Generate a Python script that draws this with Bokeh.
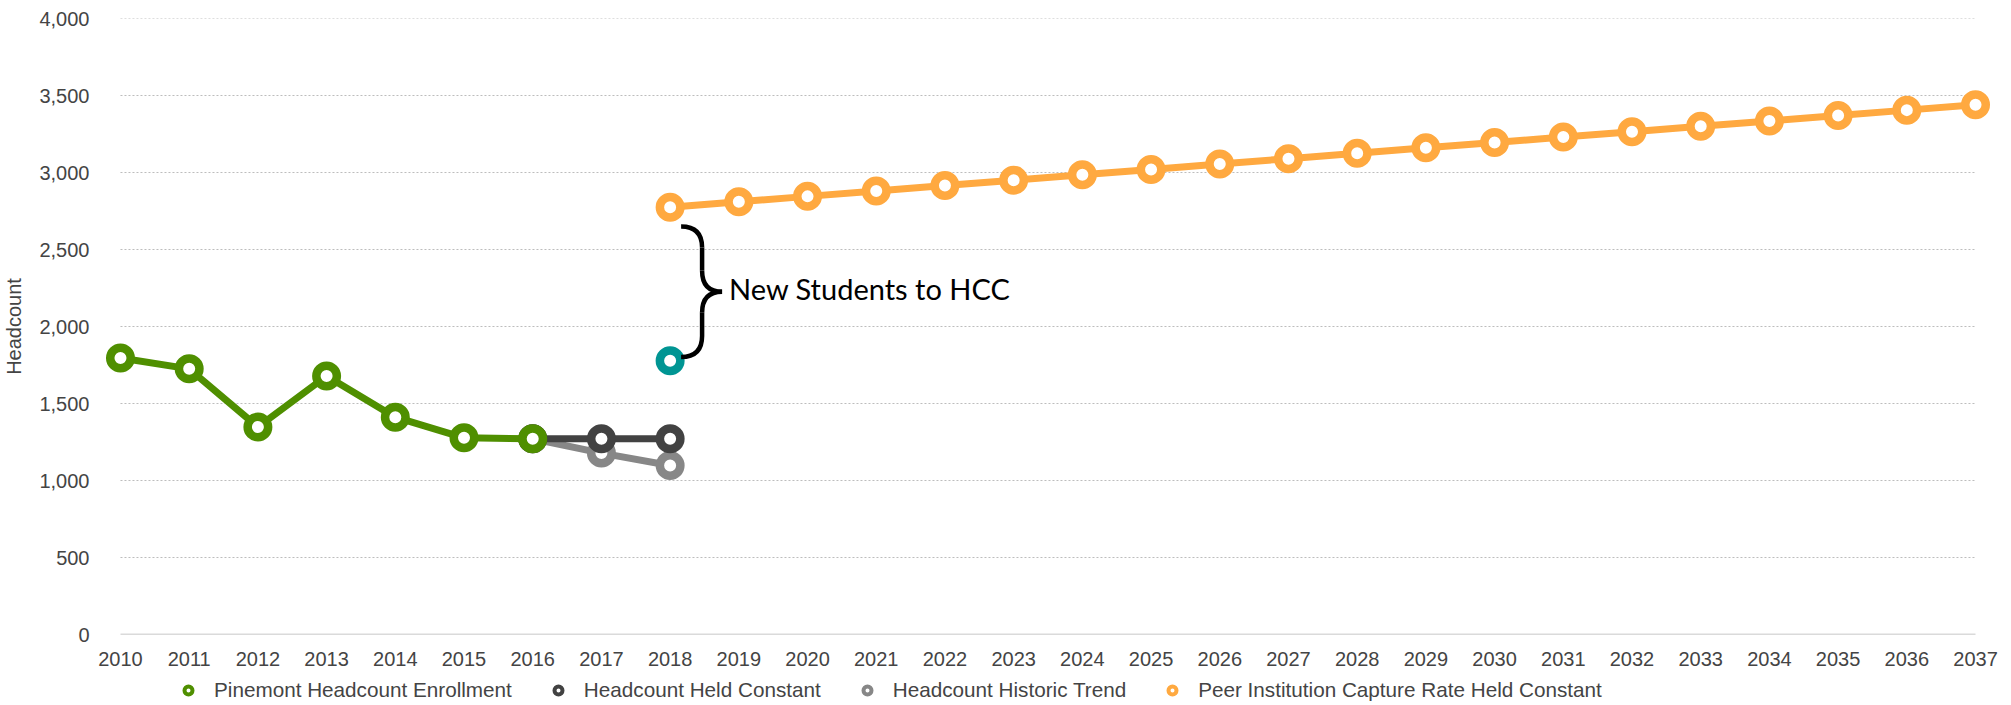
from bokeh.plotting import figure
from bokeh.layouts import column
from bokeh.models import (Range1d, FixedTicker, NumeralTickFormatter, Legend, LegendItem)
from bokeh.core.properties import value
from bokeh.embed import file_html
from bokeh.resources import INLINE

# ---------------- data ----------------
years_hist = [2010, 2011, 2012, 2013, 2014, 2015, 2016]
pinemont = [1795, 1725, 1347, 1679, 1411, 1277, 1271]

years_const = [2016, 2017, 2018]
held_constant = [1271, 1271, 1271]

years_trend = [2016, 2017, 2018]
historic_trend = [1271, 1178, 1097]

years_peer = list(range(2018, 2038))
peer_capture = [2775, 2810, 2845, 2880, 2915, 2950, 2985, 3020, 3055, 3090,
                3125, 3160, 3195, 3230, 3265, 3300, 3335, 3370, 3405, 3440]

teal_year = [2018]
teal_value = [1777]

x_ticks = list(range(2010, 2038))
y_ticks = [0, 500, 1000, 1500, 2000, 2500, 3000, 3500, 4000]
annotation = "New Students to HCC"

legend_labels = ["Pinemont Headcount Enrollment", "Headcount Held Constant",
                 "Headcount Historic Trend", "Peer Institution Capture Rate Held Constant"]

GREEN = "#4F8F00"
DARK = "#424242"
GRAY = "#878787"
ORANGE = "#FFA940"
TEAL = "#009593"

W, H = 2011, 705
LEG_H = 37
MAIN_H = H - LEG_H
L, R, T, B = 102, 20, 18, MAIN_H - 634
PAD = 16  # px of breathing room so edge markers are not clipped

plot_w = W - L - R
px_x = (plot_w - 2 * PAD) / (x_ticks[-1] - x_ticks[0])   # px per year
pad_years = PAD / px_x
px_y = (MAIN_H - T - B) / (y_ticks[-1] - y_ticks[0])     # px per unit

p = figure(width=W, height=MAIN_H, output_backend="svg", toolbar_location=None,
           x_range=Range1d(x_ticks[0] - pad_years, x_ticks[-1] + pad_years),
           y_range=Range1d(y_ticks[0], y_ticks[-1]),
           min_border_left=L, min_border_right=R, min_border_top=T, min_border_bottom=B)
p.background_fill_color = "#FFFFFF"
p.border_fill_color = "#FFFFFF"
p.outline_line_color = None
p.xgrid.grid_line_color = None
p.ygrid.grid_line_color = None

# gridlines and baseline spanning exactly the year range
gy = y_ticks[1:]
p.segment(x0=[x_ticks[0]] * len(gy), x1=[x_ticks[-1]] * len(gy), y0=gy, y1=gy,
          line_color="#BDBDBD", line_width=1, line_dash="2 2")
p.segment(x0=[x_ticks[0]], x1=[x_ticks[-1]], y0=[y_ticks[0]], y1=[y_ticks[0]],
          line_color="#B5B5B5", line_width=1.5)

# axes
p.xaxis.ticker = FixedTicker(ticks=x_ticks)
p.yaxis.ticker = FixedTicker(ticks=y_ticks)
p.yaxis.formatter = NumeralTickFormatter(format="0,0")
for ax in (p.xaxis[0], p.yaxis[0]):
    ax.axis_line_color = None
    ax.major_tick_line_color = None
    ax.minor_tick_line_color = None
    ax.major_label_text_font = "Liberation Sans"
    ax.major_label_text_font_size = "20px"
    ax.major_label_text_color = "#444444"
p.xaxis.major_label_standoff = 11
p.yaxis.major_label_standoff = 9
p.yaxis.axis_label = "Headcount"
p.yaxis.axis_label_text_font = "Liberation Sans"
p.yaxis.axis_label_text_font_size = "20px"
p.yaxis.axis_label_text_font_style = "normal"
p.yaxis.axis_label_text_color = "#444444"
p.yaxis.axis_label_standoff = 11

LW = 7
MS = 20.5
MLW = 8.5

def series(xs, ys, color):
    p.line(xs, ys, line_color=color, line_width=LW)
    p.scatter(xs, ys, size=MS, line_color=color, line_width=MLW, fill_color="white")

series(years_trend, historic_trend, GRAY)
series(years_const, held_constant, DARK)
series(years_hist, pinemont, GREEN)
series(years_peer, peer_capture, ORANGE)
p.scatter(teal_year, teal_value, size=MS, line_color=TEAL, line_width=MLW, fill_color="white")

# ---------------- brace annotation ----------------
x0 = teal_year[0]
top = peer_capture[0] - 125
bot = teal_value[0] + 25
mid = (top + bot) / 2
xe = x0 + 11 / px_x
xv = x0 + 32 / px_x
xt = x0 + 52 / px_x
r = 21 / px_y
bl = dict(line_color="black", line_width=4.5)
p.quadratic(x0=[xe], y0=[top], x1=[xv], y1=[top - r], cx=[xv], cy=[top], **bl)
p.segment(x0=[xv], y0=[top - r], x1=[xv], y1=[mid + r], **bl)
p.quadratic(x0=[xv], y0=[mid + r], x1=[xt], y1=[mid], cx=[xv], cy=[mid], **bl)
p.quadratic(x0=[xt], y0=[mid], x1=[xv], y1=[mid - r], cx=[xv], cy=[mid], **bl)
p.segment(x0=[xv], y0=[mid - r], x1=[xv], y1=[bot + r], **bl)
p.quadratic(x0=[xv], y0=[bot + r], x1=[xe], y1=[bot], cx=[xv], cy=[bot], **bl)
p.text(x=[x0 + 59 / px_x], y=[mid + 20], text=[annotation], text_font=value("Lato"),
       text_font_size="29px", text_color="black", text_baseline="middle", text_align="left")

# ---------------- legend (own strip below the chart) ----------------
q = figure(width=W, height=LEG_H, output_backend="svg", toolbar_location=None,
           x_range=Range1d(0, 1), y_range=Range1d(0, 1),
           x_axis_type=None, y_axis_type=None,
           min_border_left=0, min_border_right=0, min_border_top=0, min_border_bottom=0)
q.outline_line_color = None
q.xgrid.grid_line_color = None
q.ygrid.grid_line_color = None
q.background_fill_color = "#FFFFFF"
q.border_fill_color = "#FFFFFF"

nan = float("nan")
items = []
for lab, col in zip(legend_labels, [GREEN, DARK, GRAY, ORANGE]):
    rr = q.scatter([nan], [nan], size=8.5, line_color=col, line_width=4, fill_color="white")
    items.append(LegendItem(label=lab, renderers=[rr]))
legend = Legend(items=items, orientation="horizontal", location=(176 - L, 0),
                padding=0, margin=0, spacing=36, glyph_width=20, glyph_height=30,
                label_standoff=16, border_line_color=None, background_fill_alpha=0,
                label_text_font="Liberation Sans", label_text_font_size="20.7px",
                label_text_color="#444444", label_height=30)
q.add_layout(legend)

layout = column(p, q, spacing=0)
open("out.html", "w").write(file_html(layout, INLINE))
